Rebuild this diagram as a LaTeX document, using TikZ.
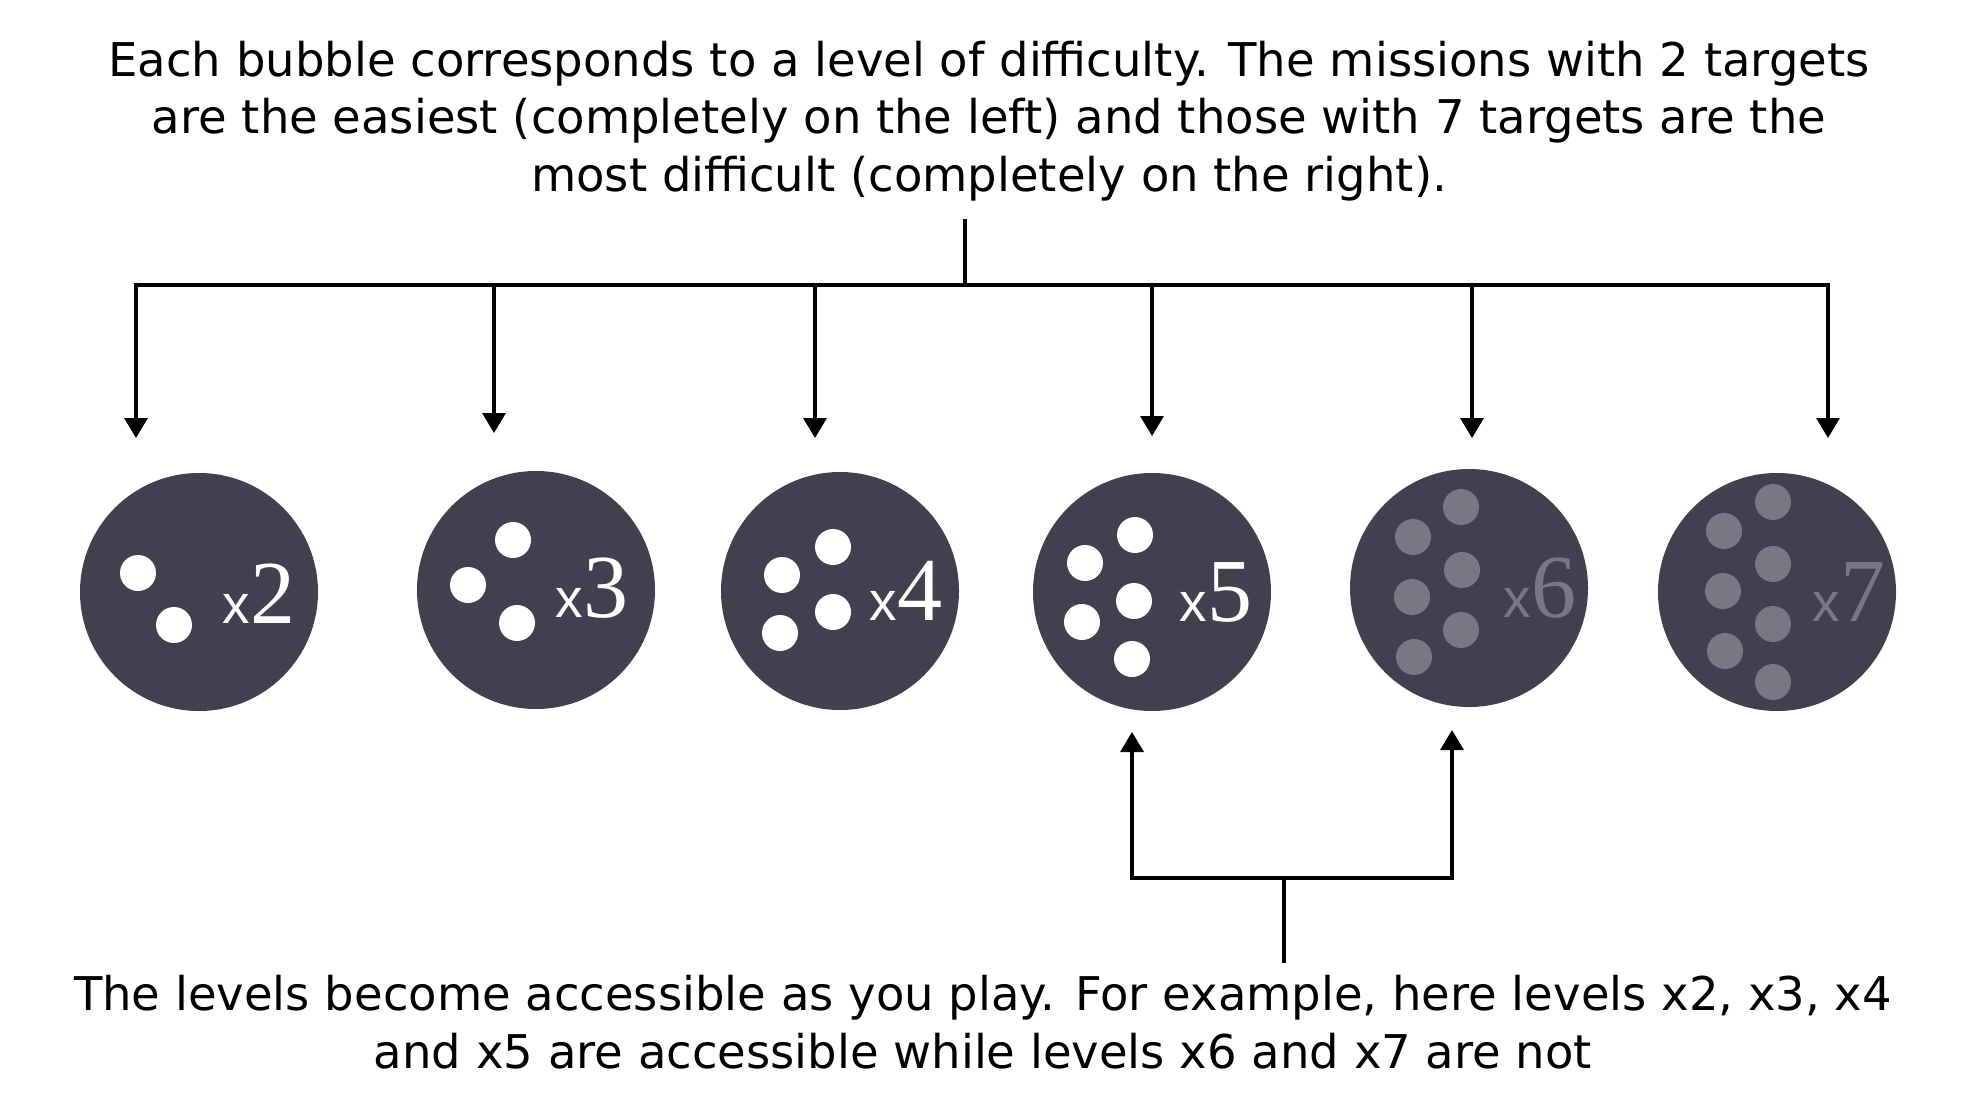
\documentclass[tikz,border=0pt]{standalone}
\usepackage{fontspec}
\setmainfont{DejaVu Sans}
\newfontfamily\numfont{Liberation Serif}
\newfontfamily\exfont{Liberation Sans}
\usetikzlibrary{arrows.meta}

\definecolor{bubble}{HTML}{423F4F}
\definecolor{locked}{HTML}{7A7784}

\tikzset{
  wire/.style={line width=3.3pt},
  level/.style={circle,fill=bubble,minimum size=238pt,inner sep=0pt},
  caption/.style={font=\fontsize{46.5}{57.5}\selectfont,align=center},
  tag/.style={inner sep=0pt,text=white},
}
\newcommand{\lvl}[1]{{\exfont\fontsize{55}{55}\selectfont x}{\numfont\fontsize{90}{90}\selectfont #1}}

\begin{document}
\begin{tikzpicture}[x=1pt,y=-1pt,>={Triangle[width=23pt,length=20pt]}]
        \useasboundingbox (0,0) rectangle (1963,1111);

        % texts
        \node[caption] (top) at (989,121) {Each bubble corresponds to a level of difficulty. The missions with 2 targets\\are the easiest (completely on the left) and those with 7 targets are the\\most difficult (completely on the right).};
        \node[caption] (bot) at (983,1022) {The levels become accessible as you play. For example, here levels x2, x3, x4\\and x5 are accessible while levels x6 and x7 are not};

        % bubbles
        \node[level] (b2) at (199,592) {};
        \node[level] (b3) at (536,590) {};
        \node[level] (b4) at (840,591) {};
        \node[level] (b5) at (1152,592) {};
        \node[level] (b6) at (1469,588) {};
        \node[level] (b7) at (1777,592) {};

        \foreach \dx/\dy in {-61/-19,-25/33}
            \fill[white] (b2.center) ++(\dx,\dy) circle (18pt);
        \foreach \dx/\dy in {-68/-5,-23/-50,-19/33}
            \fill[white] (b3.center) ++(\dx,\dy) circle (18pt);
        \foreach \dx/\dy in {-58/-16,-7/-44,-7/21,-60/42}
            \fill[white] (b4.center) ++(\dx,\dy) circle (18pt);
        \foreach \dx/\dy in {-17/-57,-67/-29,-18/9,-70/30,-20/67}
            \fill[white] (b5.center) ++(\dx,\dy) circle (18pt);
        \foreach \dx/\dy in {-8/-81,-56/-51,-7/-18,-57/9,-8/42,-55/69}
            \fill[locked] (b6.center) ++(\dx,\dy) circle (18pt);
        \foreach \dx/\dy in {-4/-90,-53/-61,-4/-28,-54/-1,-4/32,-52/59,-4/90}
            \fill[locked] (b7.center) ++(\dx,\dy) circle (18pt);

        \node[tag,xshift=60pt,yshift=-2pt] at (b2) {\lvl{2}};
        \node[tag,xshift=56pt,yshift=2pt] at (b3) {\lvl{3}};
        \node[tag,xshift=66pt] at (b4) {\lvl{4}};
        \node[tag,xshift=64pt] at (b5) {\lvl{5}};
        \node[tag,xshift=71pt,text=locked] at (b6) {\lvl{6}};
        \node[tag,xshift=72pt,text=locked] at (b7) {\lvl{7}};

        % top arrows
        \coordinate (stem) at (965,219);
        \coordinate (bar) at (965,285);
        \coordinate (t2) at (136,438);
        \coordinate (t3) at (494,433);
        \coordinate (t4) at (815,438);
        \coordinate (t5) at (1152,436);
        \coordinate (t6) at (1472,438);
        \coordinate (t7) at (1828,438);

        \draw[wire] (stem) -- (bar);
        \draw[wire,<->] (t2) -- (t2 |- bar) -- (t7 |- bar) -- (t7);
        \foreach \t in {t3,t4,t5,t6}
            \draw[wire,->] (\t |- bar) -- (\t);

        % bottom arrows
        \coordinate (foot) at (1284,963);
        \coordinate (low) at (1284,878);
        \coordinate (u5) at (1132,732);
        \coordinate (u6) at (1452,730);

        \draw[wire] (foot) -- (low);
        \draw[wire,<->] (u5) -- (u5 |- low) -- (u6 |- low) -- (u6);
\end{tikzpicture}
\end{document}
